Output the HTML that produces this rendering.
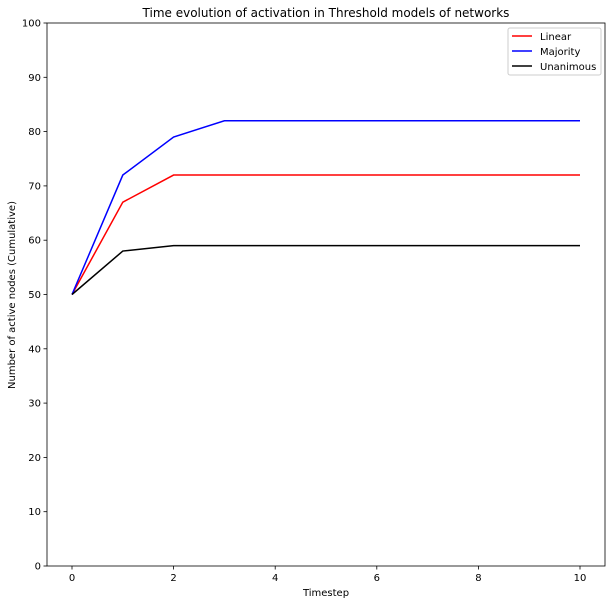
<!DOCTYPE html>
<html><head><meta charset="utf-8"><style>
body{margin:0;background:#fff;font-family:"Liberation Sans","DejaVu Sans",sans-serif;}
svg text{font-family:"DejaVu Sans","Liberation Sans",sans-serif;}
</style></head><body>
<svg id="chart" width="612" height="604" xmlns="http://www.w3.org/2000/svg">
<rect width="612" height="604" fill="#fff"/>
<text x="326" y="17" font-size="12" text-anchor="middle">Time evolution of activation in Threshold models of networks</text>
<g id="axes"></g>
<g id="series"></g>
<rect x="47" y="23" width="558" height="543" fill="none" stroke="#000" stroke-width="0.8"/>
<text x="326" y="596" font-size="10" text-anchor="middle">Timestep</text>
<text transform="translate(15,295) rotate(-90)" font-size="10" text-anchor="middle">Number of active nodes (Cumulative)</text>
<g>
<rect x="508" y="28" width="93" height="47" fill="#fff" stroke="#ccc" rx="2"/>
<line x1="512" y1="36" x2="532" y2="36" stroke="red" stroke-width="1.5"/><text x="540" y="40" font-size="10">Linear</text>
<line x1="512" y1="51" x2="532" y2="51" stroke="blue" stroke-width="1.5"/><text x="540" y="55" font-size="10">Majority</text>
<line x1="512" y1="66" x2="532" y2="66" stroke="black" stroke-width="1.5"/><text x="540" y="70" font-size="10">Unanimous</text>
</g>
</svg>
<script>
const timesteps=[0,1,2,3,4,5,6,7,8,9,10];
const linear=[50,67,72,72,72,72,72,72,72,72,72];
const majority=[50,72,79,82,82,82,82,82,82,82,82];
const unanimous=[50,58,59,59,59,59,59,59,59,59,59];
const xTicks=[0,2,4,6,8,10];
const yTicks=[0,10,20,30,40,50,60,70,80,90,100];
const NS="http://www.w3.org/2000/svg";
function xs(v){return 72+v*50.8;}
function ys(v){return 566-v*5.43;}
const axes=document.getElementById('axes');
function mk(tag,attrs,parent){const e=document.createElementNS(NS,tag);for(const k in attrs)e.setAttribute(k,attrs[k]);parent.appendChild(e);return e;}
xTicks.forEach(t=>{
 const l=mk('line',{x1:xs(t),x2:xs(t),y1:566,y2:569.5,stroke:'#000','stroke-width':0.8},axes);
 
 
 const tx=mk('text',{x:xs(t),y:581,'font-size':10,'text-anchor':'middle'},axes);tx.textContent=t;
 
 
});
yTicks.forEach(t=>{
 const l=mk('line',{x1:43.5,x2:47,y1:ys(t),y2:ys(t),stroke:'#000','stroke-width':0.8},axes);
 
 
 const tx=mk('text',{x:41,y:ys(t)+3.5,'font-size':10,'text-anchor':'end'},axes);tx.textContent=t;
 
 
});
const sg=document.getElementById('series');
[[linear,'red','linear-line'],[majority,'blue','majority-line'],[unanimous,'black','unanimous-line']].forEach(([d,c,n])=>{
 const p=mk('polyline',{points:d.map((v,i)=>xs(timesteps[i])+','+ys(v)).join(' '),fill:'none',stroke:c,'stroke-width':1.5},sg);
 
 
});
</script>
</body></html>
